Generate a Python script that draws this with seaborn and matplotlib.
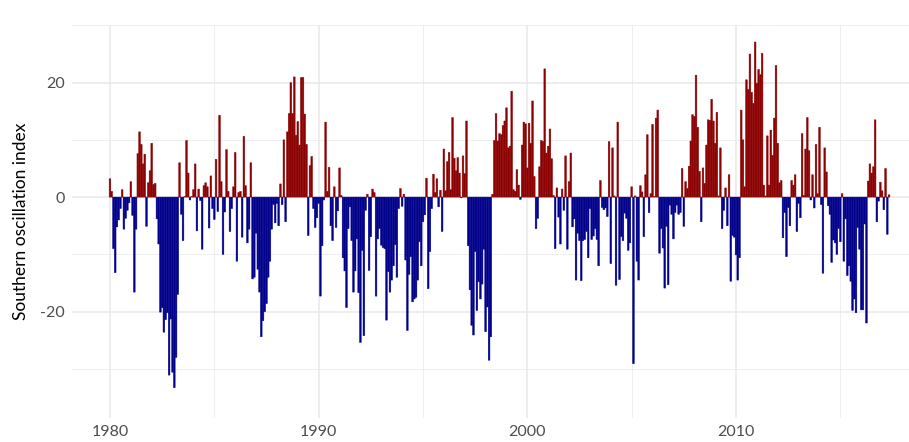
import numpy as np
import pandas as pd
import matplotlib
matplotlib.use("Agg")
import matplotlib.pyplot as plt
from matplotlib.ticker import FixedLocator
import seaborn as sns

# Monthly Southern Oscillation Index, Jan 1980 onwards
start_year = 1980

soi_1980s = [
    3.2, 1.0, -9.0, -13.2, -5.2, -4.0, -2.0, 1.3, -5.6, -3.7, -2.3, -1.0,
    2.7, -3.2, -16.6, -5.6, 7.6, 11.4, 9.2, 5.8, 7.5, -5.1, 2.5, 4.6,
    9.4, 2.2, 2.4, -3.8, -8.2, -20.1, -19.3, -23.6, -21.4, -20.2, -31.1, -21.3,
    -30.6, -33.3, -28.0, -17.0, 6.0, -3.0, -7.6, 0.1, 9.9, 4.2, -0.5, 0.1,
    1.3, 5.8, -5.9, 1.4, -0.6, -9.1, 2.0, 2.5, 1.8, -5.4, 3.7, -2.0,
    -3.9, 6.6, -2.5, 14.3, 2.7, -10.0, -2.6, 8.3, 1.0, -6.0, -2.0, 1.8,
    7.8, -11.2, 0.8, 1.0, -7.0, 10.6, 2.0, -8.0, -5.6, 6.0, -14.3, -14.0,
    -6.3, -12.6, -16.6, -24.4, -21.6, -20.0, -18.6, -14.0, -11.2, -5.6, -1.3, -4.5,
    -1.1, -5.0, 2.3, -1.3, 10.0, -4.3, 11.4, 14.6, 20.0, 14.6, 21.0, 10.8,
    13.2, 9.1, 20.9, 20.9, 14.5, 9.2, -6.7, 5.5, 7.1, -2.0, -5.3, -3.6,
]

soi_1990s = [
    -1.1, -17.3, -8.5, -0.5, 13.1, 1.0, 5.2, -5.0, -7.6, 1.8, -5.3, -2.4,
    5.1, 0.3, -10.6, -12.9, -19.3, -5.5, -1.7, -7.6, -16.6, -12.9, -7.3, -16.7,
    -25.4, -9.3, -24.2, -2.3, 0.5, -12.8, -6.9, 1.4, 0.8, -17.3, -7.3, -5.5,
    -8.4, -8.8, -9.0, -21.5, -13.0, -16.6, -14.5, -12.0, -8.3, -14.0, -2.0, 1.5,
    -1.6, 0.5, -11.0, -23.3, -13.5, -10.4, -18.3, -17.8, -17.5, -14.5, -7.8, -12.0,
    -4.3, -3.1, 3.3, -16.0, -9.5, -2.0, 4.0, 0.8, 3.2, -1.7, 1.2, -6.0,
    8.4, 1.1, 6.2, 7.8, 1.3, 13.9, 6.8, 4.6, 6.9, 4.2, -0.1, 7.2,
    4.1, 13.3, -8.5, -16.2, -22.4, -24.1, -9.5, -19.8, -14.8, -17.8, -15.2, -9.1,
    -23.5, -19.2, -28.5, -24.4, 0.5, 9.9, 14.6, 9.8, 11.1, 10.9, 12.5, 13.3,
    15.6, 8.6, 8.9, 18.5, 1.3, 1.0, 4.8, 2.1, -0.4, 9.1, 13.1, 12.8,
]

soi_2000s = [
    5.1, 12.9, 9.4, 16.8, 3.6, -5.5, -3.7, 5.3, 9.9, 9.7, 22.4, 7.7,
    8.9, 11.9, 6.7, 0.3, -9.0, 1.6, -3.5, -8.2, 1.4, -2.3, 7.2, -9.1,
    2.7, 7.7, -5.2, -3.8, -14.5, -6.3, -7.6, -14.6, -7.6, -7.4, -6.0, -10.6,
    -2.0, -7.4, -6.8, -5.5, -7.4, -12.0, 2.9, -1.8, -2.2, -1.9, -3.4, 9.7,
    -11.6, 8.6, 0.2, -15.4, 13.1, -14.4, -6.9, -7.6, -2.8, -3.7, -9.3, -8.0,
    1.8, -29.1, 0.2, -11.2, -14.5, 2.0, 0.9, -6.9, 3.9, 10.9, -2.7, 0.6,
    12.7, 0.1, 13.8, 15.2, -9.8, -5.5, -8.9, -15.9, -5.1, -15.3, -1.4, -3.0,
    -7.3, -2.7, -1.4, -3.0, -2.7, 5.0, -5.1, 2.7, 1.5, 5.4, 9.8, 14.4,
    14.1, 21.3, 12.2, 4.5, -4.3, 5.1, 2.4, 9.1, 13.5, 13.4, 17.1, 13.3,
    9.4, 14.8, 0.2, 8.6, -5.5, -2.3, 1.6, -5.0, 3.9, -14.7, -6.7, -7.0,
]

soi_2010s = [
    -10.1, -14.5, -10.6, 15.2, 10.0, 1.8, 20.5, 18.8, 25.0, 18.3, 16.4, 27.1,
    19.9, 22.3, 21.4, 25.1, 2.1, 0.2, 10.7, 2.1, 11.7, 7.3, 13.8, 23.0,
    9.4, 2.5, 2.9, -7.1, -2.7, -10.4, -1.8, -5.0, 2.9, 2.1, 3.9, -6.0,
    -1.1, -3.6, 11.1, 0.3, 8.4, 13.9, 8.1, -0.5, 3.9, -1.9, 9.2, 0.6,
    12.2, -1.3, -13.3, 8.6, 4.4, -1.5, -3.0, -11.4, -7.5, -8.0, -10.0, -5.5,
    -7.8, 0.6, -11.2, -3.8, -13.7, -12.0, -14.7, -19.8, -17.8, -20.2, -5.3, -9.1,
    -19.7, -19.7, -4.7, -22.0, 2.8, 5.8, 4.2, 5.3, 13.5, -4.3, -0.7, 2.6,
    1.1, -2.2, 5.0, -6.5, 0.4,
]

year_ticks = [1980, 1990, 2000, 2010]
minor_years = [1985, 1995, 2005, 2015]
y_ticks = [-20, 0, 20]

soi = soi_1980s + soi_1990s + soi_2000s + soi_2010s
# month counter since Jan 1980 keeps bar spacing exact
df = pd.DataFrame({"month": np.arange(len(soi)), "soi": soi})
df["phase"] = np.where(df["soi"] >= 0, "pos", "neg")


def to_month(year):
    return (year - start_year) * 12


sns.set_theme(style="whitegrid")
plt.rcParams["font.family"] = ["Lato", "DejaVu Sans"]
plt.rcParams["axes.unicode_minus"] = False

fig = plt.figure(figsize=(9.09, 4.42), dpi=100)
ax = fig.add_axes([72 / 909, 24 / 442, 837 / 909, 393 / 442])

sns.barplot(data=df, x="month", y="soi", hue="phase",
            palette={"pos": "#8b0000", "neg": "#00008b"},
            native_scale=True, dodge=False, width=0.95, saturation=1,
            errorbar=None, legend=False, ax=ax)

# no pixel snapping + thin same-colour outline so every narrow bar renders evenly
for bar in ax.patches:
    bar.set_snap(False)
    bar.set_edgecolor(bar.get_facecolor())
    bar.set_linewidth(0.35)

ax.set_xlim(to_month(1978.18), to_month(2018.29))
ax.set_ylim(-38.6, 30.07)

ax.set_xticks([to_month(y) for y in year_ticks])
ax.set_xticklabels([str(y) for y in year_ticks])
ax.xaxis.set_minor_locator(FixedLocator([to_month(y) for y in minor_years]))
ax.set_yticks(y_ticks)
ax.set_yticklabels([str(v) for v in y_ticks])
ax.yaxis.set_minor_locator(FixedLocator([-30, -10, 10, 30]))

ax.grid(which="major", color="#e8e8e8", linewidth=1.1)
ax.grid(which="minor", color="#ebebeb", linewidth=0.6)
ax.set_axisbelow(True)
for s in ax.spines.values():
    s.set_visible(False)

ax.tick_params(which="both", length=0, labelsize=11.5, colors="#4d4d4d", pad=5)
ax.set_xlabel("")
ax.set_ylabel("Southern oscillation index", fontsize=12.5, color="black", labelpad=8)

fig.savefig("out.png", dpi=100)
